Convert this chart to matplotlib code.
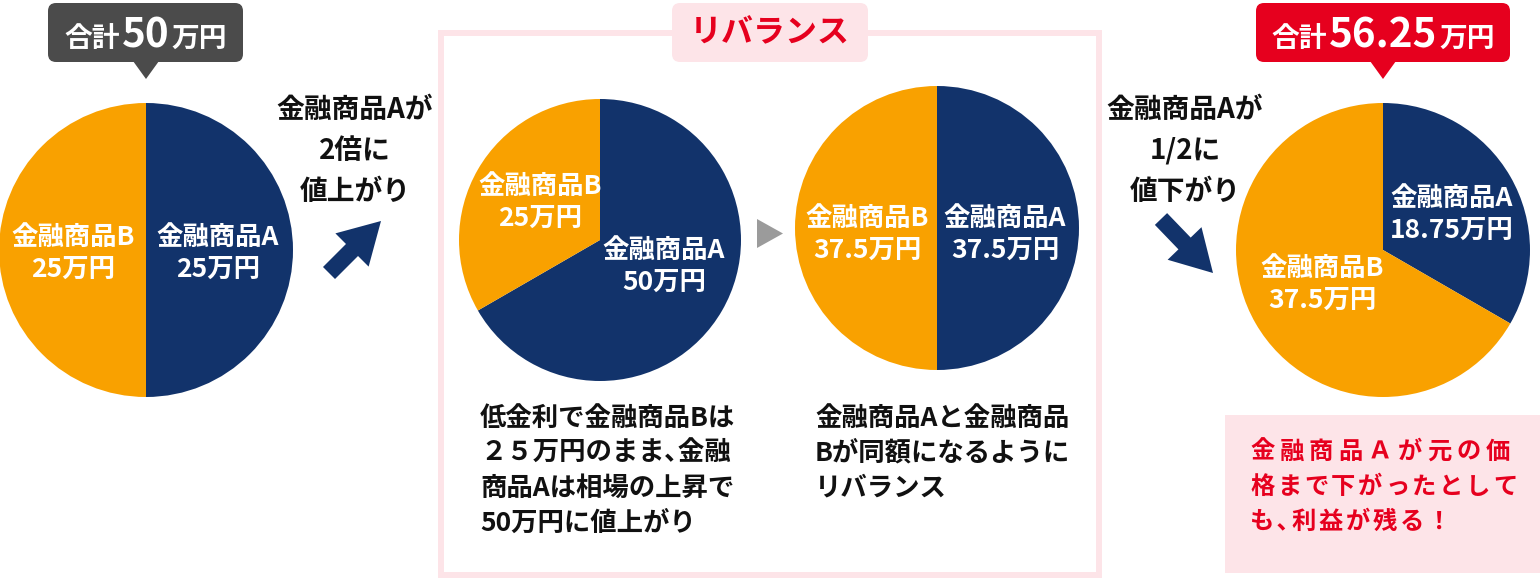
import matplotlib
matplotlib.use("Agg")
import matplotlib.pyplot as plt
from matplotlib.patches import FancyBboxPatch, Polygon, Rectangle, FancyArrow

plt.rcParams['font.family'] = ['Noto Sans CJK JP', 'DejaVu Sans']

# data
products = ['金融商品A', '金融商品B']
start_vals = [25, 25]        # 万円
after_rise = [50, 25]
rebalanced = [37.5, 37.5]
after_fall = [18.75, 37.5]

rise_note = ['金融商品Aが', '2倍に', '値上がり']
fall_note = ['金融商品Aが', '1/2に', '値下がり']
rebalance_title = 'リバランス'
desc_left = ['低金利で金融商品Bは', '２５万円のまま､金融', '商品Aは相場の上昇で', '50万円に値上がり']
desc_right = ['金融商品Aと金融商品', 'Bが同額になるように', 'リバランス']
conclusion = ['金融商品Ａが元の価', '格まで下がったとして', 'も､利益が残る！']

NAVY = '#12336b'
ORANGE = '#f9a100'
GRAY = '#4b4b4b'
RED = '#e6001e'
PINK = '#fde4e8'

W, H = 1540, 580
fig = plt.figure(figsize=(W / 100, H / 100), dpi=100)
ax = fig.add_axes([0, 0, 1, 1])


def Y(y):
    # image rows (top=0) to data y
    return H - y


def fmt(v):
    return f'{v:g}万円'


def pie(vals, cx, cy, r):
    ax.pie(vals, colors=[NAVY, ORANGE], startangle=90, counterclock=False,
           center=(cx, Y(cy)), radius=r, wedgeprops=dict(linewidth=0))


def label(x, y, name, val, size=19):
    ax.text(x, Y(y), name, color='white', fontsize=size, fontweight='bold',
            ha='center', va='center')
    ax.text(x, Y(y + 32), fmt(val), color='white', fontsize=size, fontweight='bold',
            ha='center', va='center')


def callout(x0, x1, px, fc, total):
    ax.add_patch(FancyBboxPatch((x0, Y(62)), x1 - x0, 59,
                                boxstyle='round,pad=0,rounding_size=8', fc=fc, ec='none'))
    ax.add_patch(Polygon([(px - 13, Y(61)), (px + 13, Y(61)), (px, Y(79))], fc=fc, ec='none'))
    runs = [('合計', 20), (f'{total:g}', 29), ('万円', 20)]
    rend = fig.canvas.get_renderer()
    ts, ws = [], []
    for s, sz in runs:
        t = ax.text(0, Y(47), s, color='white', fontsize=sz, fontweight='bold',
                    ha='left', va='baseline')
        ts.append(t)
        ws.append(t.get_window_extent(rend).width)
    gap = 2
    x = (x0 + x1) / 2 - (sum(ws) + gap * (len(ws) - 1)) / 2
    for t, w in zip(ts, ws):
        t.set_x(x)
        x += w + gap


# pies
pie(start_vals, 146, 250, 147)
pie(after_rise, 600, 240, 141)
pie(rebalanced, 937, 228, 142)
pie(after_fall, 1383, 250, 147)

ax.set_xlim(0, W)
ax.set_ylim(0, H)
ax.set_aspect('auto')
ax.axis('off')

label(218, 237, products[0], start_vals[0])
label(73, 237, products[1], start_vals[1])
label(664, 250, products[0], after_rise[0])
label(540, 186, products[1], after_rise[1])
label(1005, 218, products[0], rebalanced[0])
label(867, 218, products[1], rebalanced[1])
label(1452, 198, products[0], after_fall[0])
label(1322, 268, products[1], after_fall[1])

# totals
callout(48, 243, 146, GRAY, sum(start_vals))
callout(1256, 1510, 1383, RED, sum(after_fall))

# rebalance frame
ax.add_patch(Rectangle((441, Y(575)), 658, 542, fc='none', ec=PINK, lw=4.3))
ax.add_patch(FancyBboxPatch((672, Y(62)), 196, 59,
                            boxstyle='round,pad=0,rounding_size=8', fc=PINK, ec='none'))
ax.text(770, Y(33), rebalance_title, color=RED, fontsize=23, fontweight='bold',
        ha='center', va='center')

# notes with arrows
for i, s in enumerate(rise_note):
    ax.text(355, Y(110 + 41 * i), s, fontsize=20, fontweight='bold', color='#111111',
            ha='center', va='center')
for i, s in enumerate(fall_note):
    ax.text(1185, Y(110 + 41 * i), s, fontsize=20, fontweight='bold', color='#111111',
            ha='center', va='center')

ax.add_patch(FancyArrow(329, Y(273), 52, 52, width=17, head_width=47, head_length=41,
                        length_includes_head=True, fc=NAVY, ec='none'))
ax.add_patch(FancyArrow(1161, Y(219), 52, -54, width=17, head_width=47, head_length=41,
                        length_includes_head=True, fc=NAVY, ec='none'))

# gray step marker
ax.add_patch(Polygon([(757, Y(219)), (757, Y(248)), (783, Y(233.5))], fc='#9b9b9b', ec='none'))

# descriptions
for i, s in enumerate(desc_left):
    ax.text(480, Y(418 + 35 * i), s, fontsize=19, fontweight='bold', color='#111111',
            ha='left', va='center')
for i, s in enumerate(desc_right):
    ax.text(815, Y(418 + 35 * i), s, fontsize=19, fontweight='bold', color='#111111',
            ha='left', va='center')

# conclusion box
ax.add_patch(Rectangle((1225, Y(573)), 315, 158, fc=PINK, ec='none'))
for i, s in enumerate(conclusion):
    pitch = 29.5 if len(s) == 9 else 27
    x = 1250
    for ch in s:
        ax.text(x, Y(452 + 35 * i), ch, fontsize=17.5, fontweight='bold',
                color=RED, ha='left', va='center')
        x += pitch * (0.55 if ch == '､' else 1)

fig.savefig('out.png', dpi=100)
